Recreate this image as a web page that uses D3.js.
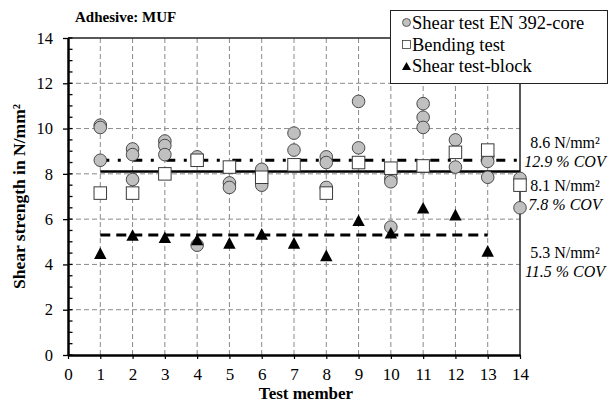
<!DOCTYPE html>
<html>
<head>
<meta charset="utf-8">
<script src="https://cdn.jsdelivr.net/npm/d3@7/dist/d3.min.js"></script>
<style>
  body { margin: 0; background: #fff; }
  svg { display: block; }
  text { font-family: "Liberation Serif", "Times New Roman", serif; fill: #000; }
</style>
</head>
<body>
<svg id="chart" width="612" height="406"></svg>
<script>
// Shear strength per test member, three test methods (N/mm²)
const members = d3.range(1, 15);

// Shear test EN 392 (cores): several specimens per member
const coreShear = [
  [10.15, 10.05, 8.6],
  [9.1, 8.85, 7.75],
  [9.45, 9.25, 8.85],
  [8.75, 4.85],
  [7.6, 7.4],
  [8.2, 7.5],
  [9.8, 9.05],
  [8.75, 8.5, 7.4],
  [11.2, 9.15],
  [7.8, 7.65, 5.65],
  [11.1, 10.5, 10.05],
  [9.5, 8.3],
  [8.75, 8.55, 7.85],
  [7.8, 6.5]
];

// Bending test, one value per member
const bending = [7.15, 7.15, 8.0, 8.6, 8.3, 7.85, 8.4, 7.15, 8.5, 8.25, 8.35, 8.95, 9.05, 7.5];

// Shear test on blocks, members 1-13
const blockShear = [4.5, 5.3, 5.2, 5.1, 4.95, 5.35, 4.95, 4.4, 5.95, 5.4, 6.5, 6.2, 4.6];

// Mean values and coefficients of variation (core, bending, block)
const meanValues = [8.6, 8.1, 5.3];
const meanCov = [12.9, 7.8, 11.5];

const seriesNames = ["Shear test EN 392-core", "Bending test", "Shear test-block"];
const xTicks = d3.range(0, 15);
const yTicks = d3.range(0, 15, 2);

const svg = d3.select("#chart");
const x = d3.scaleLinear().domain([0, 14]).range([68, 520]);
const y = d3.scaleLinear().domain([0, 14]).range([355, 38]);

// gridlines
const grid = svg.append("g").attr("stroke", "#8a8a8a").attr("stroke-width", 1).attr("stroke-dasharray", "5,3");
grid.selectAll("line.v").data(members.filter(m => m < 14)).join("line")
  .attr("x1", d => x(d)).attr("x2", d => x(d)).attr("y1", y(14)).attr("y2", y(0));
grid.selectAll("line.h").data(yTicks.filter(t => t > 0 && t < 14)).join("line")
  .attr("x1", x(0)).attr("x2", x(14)).attr("y1", d => y(d)).attr("y2", d => y(d));

// frame (top and right)
svg.append("path")
  .attr("d", `M${x(0)},${y(14)}H${x(14)}V${y(0)}`)
  .attr("fill", "none").attr("stroke", "#222").attr("stroke-width", 1.5);

// mean lines
const seriesLengths = [coreShear.length, bending.length, blockShear.length];
const lineStyles = [
  { w: 3, dash: "9,8.5,3,12.5" },
  { w: 2.5, dash: null },
  { w: 3, dash: "10,6" }
];
meanValues.forEach((v, i) => {
  svg.append("line")
    .attr("x1", x(1)).attr("x2", x(seriesLengths[i]))
    .attr("y1", y(v)).attr("y2", y(v))
    .attr("stroke", "#000").attr("stroke-width", lineStyles[i].w)
    .attr("stroke-dasharray", lineStyles[i].dash);
});

// markers
const corePts = coreShear.flatMap((vals, i) => vals.map(v => ({ m: members[i], v })));
svg.append("g").selectAll("circle").data(corePts).join("circle")
  .attr("cx", d => x(d.m)).attr("cy", d => y(d.v)).attr("r", 6.3)
  .attr("fill", "#c0c0c0").attr("stroke", "#3a3a3a").attr("stroke-width", 0.9);

const sq = 12.5;
svg.append("g").selectAll("rect").data(bending).join("rect")
  .attr("x", (d, i) => x(members[i]) - sq / 2).attr("y", d => y(d) - sq / 2)
  .attr("width", sq).attr("height", sq)
  .attr("fill", "#fff").attr("stroke", "#3a3a3a").attr("stroke-width", 1);

const tri = "M0,-5.8L6.2,5.8L-6.2,5.8Z";
svg.append("g").selectAll("path").data(blockShear).join("path")
  .attr("d", tri)
  .attr("transform", (d, i) => `translate(${x(members[i])},${y(d)})`)
  .attr("fill", "#000");

// axes
const yAxis = svg.append("g").attr("transform", `translate(${x(0)},0)`)
  .call(d3.axisLeft(y).tickValues(yTicks).tickSizeInner(5).tickSizeOuter(0).tickPadding(10));
yAxis.select(".domain").attr("stroke", "#000").attr("stroke-width", 2.5);
yAxis.selectAll(".tick line").attr("stroke", "#000").attr("stroke-width", 1.3);
yAxis.selectAll("text").attr("font-family", '"Liberation Serif", serif').attr("font-size", 16.5);
// inner ticks every 0.5
svg.append("g").selectAll("line").data(d3.range(0, 14.01, 0.5)).join("line")
  .attr("x1", x(0)).attr("x2", x(0) + 4.5)
  .attr("y1", d => y(d)).attr("y2", d => y(d))
  .attr("stroke", "#000").attr("stroke-width", 1.3);

const xAxis = svg.append("g").attr("transform", `translate(0,${y(0)})`)
  .call(d3.axisBottom(x).tickValues(xTicks).tickFormat(d3.format("d")).tickSizeInner(4).tickSizeOuter(0).tickPadding(9));
xAxis.select(".domain").attr("stroke", "#000").attr("stroke-width", 2.5);
xAxis.selectAll(".tick line").attr("stroke", "#000").attr("stroke-width", 1.2);
xAxis.selectAll("text").attr("font-family", '"Liberation Serif", serif').attr("font-size", 17);

// axis titles
svg.append("text").attr("x", 306).attr("y", 399)
  .attr("text-anchor", "middle").attr("font-weight", "bold").attr("font-size", 17)
  .text("Test member");
svg.append("text")
  .attr("transform", `translate(25,${(y(0) + y(14)) / 2}) rotate(-90)`)
  .attr("text-anchor", "middle").attr("font-weight", "bold").attr("font-size", 17.5)
  .text("Shear strength in N/mm²");
svg.append("text").attr("x", 75).attr("y", 22)
  .attr("font-weight", "bold").attr("font-size", 15).text("Adhesive: MUF");

// mean value annotations
const annY = [148, 191, 258];
meanValues.forEach((v, i) => {
  svg.append("text").attr("x", 565).attr("y", annY[i]).attr("text-anchor", "middle")
    .attr("font-size", 16).text(`${d3.format(".1f")(v)} N/mm²`);
  svg.append("text").attr("x", 565).attr("y", annY[i] + 19).attr("text-anchor", "middle")
    .attr("font-size", 16).attr("font-style", "italic").text(`${d3.format(".1f")(meanCov[i])} % COV`);
});

// legend
const lg = svg.append("g");
lg.append("rect").attr("x", 390.5).attr("y", 10.5).attr("width", 217).attr("height", 73)
  .attr("fill", "#fff").attr("stroke", "#222").attr("stroke-width", 1);
const rowY = [22.5, 44.5, 66];
lg.append("circle").attr("cx", 406.5).attr("cy", rowY[0]).attr("r", 4)
  .attr("fill", "#c0c0c0").attr("stroke", "#3a3a3a").attr("stroke-width", 0.8);
lg.append("rect").attr("x", 402.5).attr("y", rowY[1] - 4).attr("width", 8).attr("height", 8)
  .attr("fill", "#fff").attr("stroke", "#3a3a3a").attr("stroke-width", 0.8);
lg.append("path").attr("d", "M0,-4L4.5,4L-4.5,4Z")
  .attr("transform", `translate(406.5,${rowY[2]})`).attr("fill", "#000");
seriesNames.forEach((s, i) => {
  lg.append("text").attr("x", 412).attr("y", rowY[i] + 6).attr("font-size", 18.5).text(s);
});
</script>
</body>
</html>
